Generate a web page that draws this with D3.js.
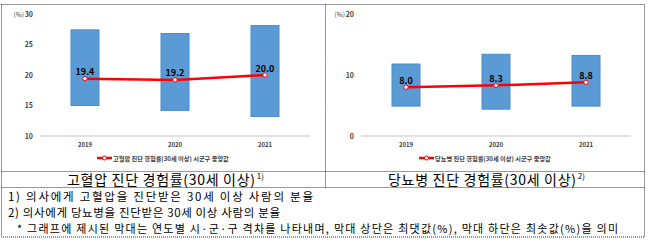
<!DOCTYPE html>
<html>
<head>
<meta charset="utf-8">
<script src="https://cdn.jsdelivr.net/npm/d3@7"></script>
<style>
  body { margin: 0; background: #fff; }
  text { font-family: "Noto Sans CJK KR", "Noto Sans", sans-serif; }
</style>
</head>
<body>
<script>
  // Data
  const years = ['2019', '2020', '2021'];

  const htnMedian = [19.4, 19.2, 20.0];
  const htnMax = [27.4, 26.8, 28.1];
  const htnMin = [15.0, 14.2, 13.2];
  const htnTicks = [10, 15, 20, 25, 30];

  const dmMedian = [8.0, 8.3, 8.8];
  const dmMax = [11.8, 13.4, 13.2];
  const dmMin = [4.9, 4.4, 4.9];
  const dmTicks = [0, 10, 20];

  const titles = ['고혈압 진단 경험률(30세 이상)', '당뇨병 진단 경험률(30세 이상)'];
  const titleNotes = ['1)', '2)'];
  const legendLabels = ['고혈압 진단 경험률(30세 이상) 시군구 중앙값', '당뇨병 진단 경험률(30세 이상) 시군구 중앙값'];
  const notes = [
    '1) 의사에게 고혈압을 진단받은 30세 이상 사람의 분율',
    '2) 의사에게 당뇨병을 진단받은 30세 이상 사람의 분율',
    '* 그래프에 제시된 막대는 연도별 시·군·구 격차를 나타내며, 막대 상단은 최댓값(%), 막대 하단은 최솟값(%)을 의미'
  ];

  const width = 650, height = 241;
  const svg = d3.select('body').append('svg')
    .attr('width', width)
    .attr('height', height);

  // table borders
  const border = svg.append('g')
    .attr('stroke', '#333')
    .attr('stroke-width', 1)
    .attr('stroke-dasharray', '1,1')
    .attr('fill', 'none');
  border.append('rect').attr('x', 1.5).attr('y', 4.5).attr('width', 643).attr('height', 232.5);
  border.append('line').attr('x1', 325.5).attr('x2', 325.5).attr('y1', 4.5).attr('y2', 187.5);
  border.append('line').attr('x1', 1.5).attr('x2', 644.5).attr('y1', 171.5).attr('y2', 171.5);
  border.append('line').attr('x1', 1.5).attr('x2', 644.5).attr('y1', 187.5).attr('y2', 187.5)
    .attr('stroke-dasharray', null);

  function drawChart(cfg) {
    const g = svg.append('g');

    const x = d3.scalePoint()
      .domain(years)
      .range([cfg.left, cfg.right])
      .padding(0.5);

    const y = d3.scaleLinear()
      .domain(cfg.domain)
      .range([136, 14]);

    // baseline
    g.append('line')
      .attr('x1', cfg.left).attr('x2', cfg.right)
      .attr('y1', y(cfg.domain[0])).attr('y2', y(cfg.domain[0]))
      .attr('stroke', '#d9d9d9')
      .attr('stroke-width', 1.5);

    // y tick labels
    g.selectAll('.ytick')
      .data(cfg.ticks)
      .enter()
      .append('text')
      .attr('class', 'ytick')
      .attr('x', cfg.left - 7)
      .attr('y', d => y(d) + 2.5)
      .attr('text-anchor', 'end')
      .attr('font-size', 7)
      .attr('font-weight', 'bold')
      .attr('fill', '#404040')
      .text(d => d);

    g.append('text')
      .attr('x', cfg.left - 16)
      .attr('y', y(cfg.domain[1]) + 2.5)
      .attr('text-anchor', 'end')
      .attr('font-size', 6.5)
      .attr('fill', '#404040')
      .text('(%)');

    // x labels
    g.selectAll('.xtick')
      .data(years)
      .enter()
      .append('text')
      .attr('class', 'xtick')
      .attr('x', d => x(d))
      .attr('y', 146.5)
      .attr('text-anchor', 'middle')
      .attr('font-size', 6)
      .attr('font-weight', 'bold')
      .attr('fill', '#404040')
      .text(d => d);

    // range bars
    const barWidth = 28;
    g.selectAll('.bar')
      .data(years)
      .enter()
      .append('rect')
      .attr('class', 'bar')
      .attr('x', d => x(d) - barWidth / 2)
      .attr('y', (d, i) => y(cfg.max[i]))
      .attr('width', barWidth)
      .attr('height', (d, i) => y(cfg.min[i]) - y(cfg.max[i]))
      .attr('fill', '#5b9bd5')
      .attr('stroke', '#4a8ccc')
      .attr('stroke-width', 1);

    // median line
    const line = d3.line()
      .x((d, i) => x(years[i]))
      .y(d => y(d));
    g.append('path')
      .datum(cfg.median)
      .attr('d', line)
      .attr('fill', 'none')
      .attr('stroke', '#ff0000')
      .attr('stroke-width', 2.5);

    g.selectAll('.pt')
      .data(cfg.median)
      .enter()
      .append('circle')
      .attr('class', 'pt')
      .attr('cx', (d, i) => x(years[i]))
      .attr('cy', d => y(d))
      .attr('r', 2.2)
      .attr('fill', '#fff')
      .attr('stroke', '#ff0000')
      .attr('stroke-width', 1);

    g.selectAll('.lbl')
      .data(cfg.median)
      .enter()
      .append('text')
      .attr('class', 'lbl')
      .attr('x', (d, i) => x(years[i]))
      .attr('y', d => y(d) - 3.5)
      .attr('text-anchor', 'middle')
      .attr('font-size', 9)
      .attr('font-weight', 'bold')
      .attr('fill', '#000')
      .text(d => d.toFixed(1));

    // legend
    const lx = cfg.legendX;
    g.append('line')
      .attr('x1', lx).attr('x2', lx + 15)
      .attr('y1', 158).attr('y2', 158)
      .attr('stroke', '#ff0000')
      .attr('stroke-width', 2.5);
    g.append('circle')
      .attr('cx', lx + 7.5).attr('cy', 158).attr('r', 2)
      .attr('fill', '#fff')
      .attr('stroke', '#ff0000')
      .attr('stroke-width', 1);
    g.append('text')
      .attr('x', lx + 16)
      .attr('y', 160.5)
      .attr('font-size', 6.2)
      .attr('font-weight', 'bold')
      .attr('fill', '#404040')
      .text(cfg.legend);

    // title
    const t = g.append('text')
      .attr('x', cfg.titleX)
      .attr('y', 184.5)
      .attr('font-size', 14)
      .attr('fill', '#000');
    t.append('tspan')
      .attr('textLength', 188)
      .attr('lengthAdjust', 'spacing')
      .text(cfg.title);
    t.append('tspan')
      .attr('dy', -6)
      .attr('dx', 1)
      .attr('font-size', 8)
      .text(cfg.note);
  }

  drawChart({
    left: 40, right: 310, domain: [10, 30], ticks: htnTicks,
    median: htnMedian, max: htnMax, min: htnMin,
    legend: legendLabels[0], legendX: 97,
    title: titles[0], note: titleNotes[0], titleX: 67
  });

  drawChart({
    left: 361, right: 631, domain: [0, 20], ticks: dmTicks,
    median: dmMedian, max: dmMax, min: dmMin,
    legend: legendLabels[1], legendX: 419,
    title: titles[1], note: titleNotes[1], titleX: 388
  });

  // footnotes
  const noteX = [8, 8, 17];
  const noteLen = [305, 272, 601];
  const noteSize = [11.5, 11.5, 11];
  svg.selectAll('.note')
    .data(notes)
    .enter()
    .append('text')
    .attr('class', 'note')
    .attr('x', (d, i) => noteX[i])
    .attr('y', (d, i) => 200.5 + i * 16.3)
    .attr('font-size', (d, i) => noteSize[i])
    .attr('fill', '#000')
    .attr('textLength', (d, i) => noteLen[i])
    .attr('lengthAdjust', 'spacing')
    .text(d => d);
</script>
</body>
</html>
